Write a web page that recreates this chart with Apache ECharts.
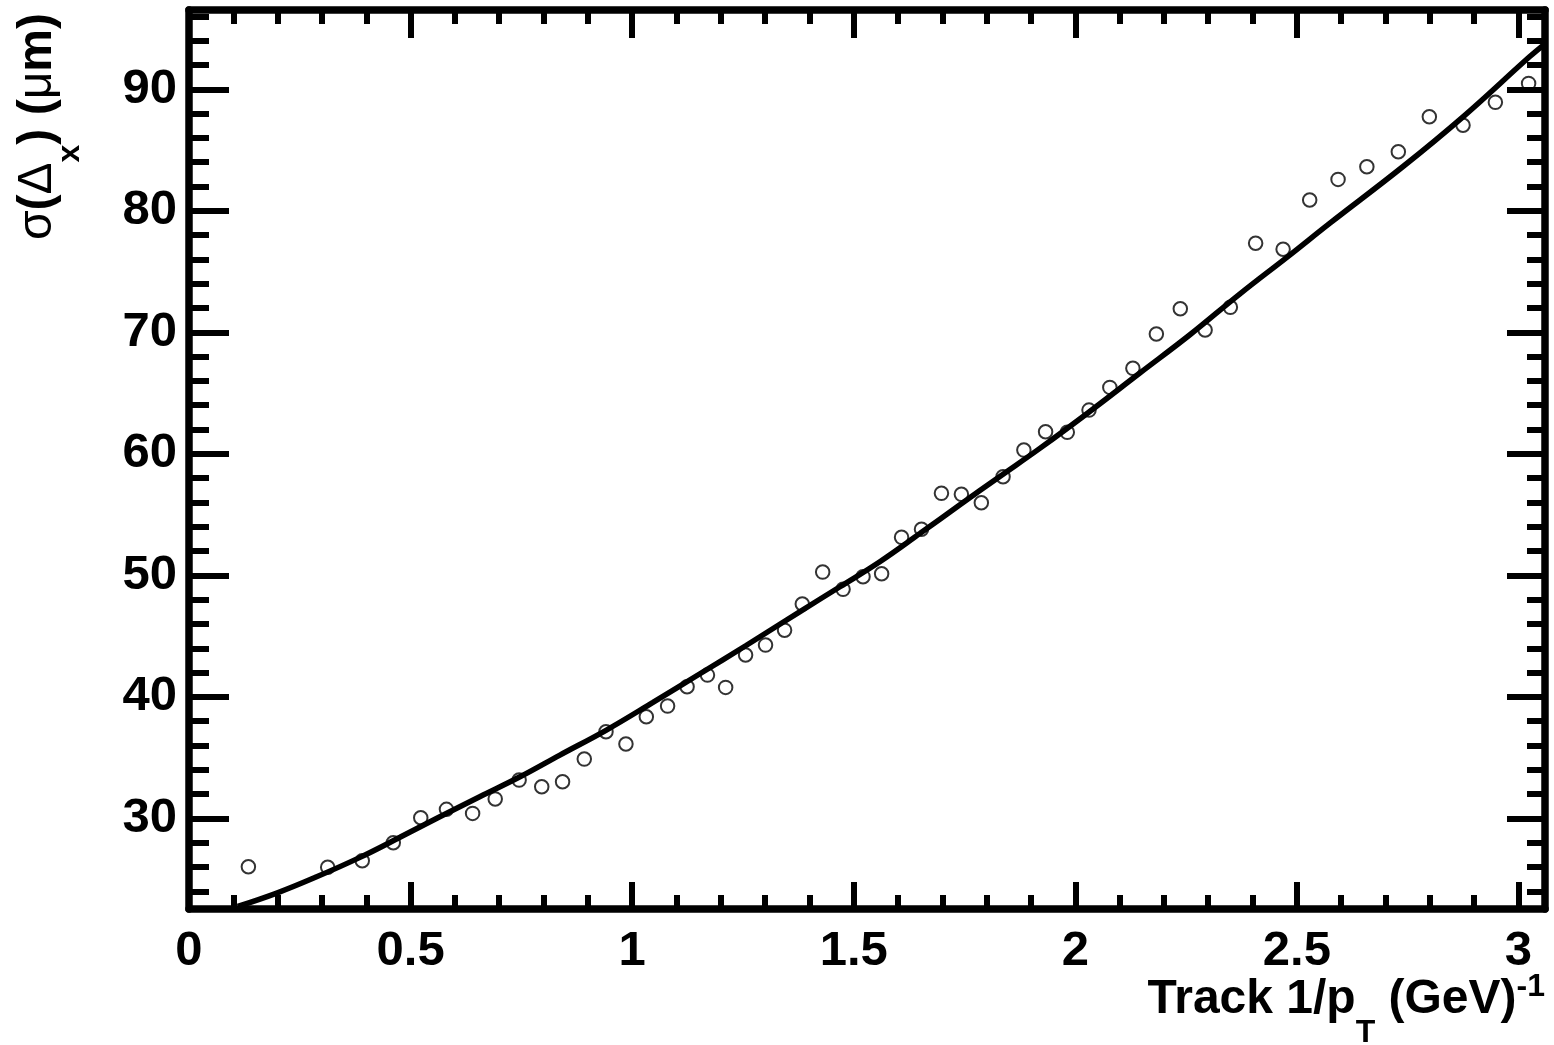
<!DOCTYPE html>
<html>
<head>
<meta charset="utf-8">
<script src="https://cdn.jsdelivr.net/npm/echarts@6/dist/echarts.min.js"></script>
<style>
  html, body { margin: 0; padding: 0; background: #fff; }
  #chart { width: 1554px; height: 1045px; }
</style>
</head>
<body>
<div id="chart"></div>
<script>
// Measured residual width sigma(Delta_x) versus track inverse transverse momentum
const pointX = [0.134, 0.313, 0.391, 0.461, 0.523, 0.581, 0.640, 0.691, 0.745, 0.796,
  0.843, 0.892, 0.941, 0.986, 1.032, 1.080, 1.124, 1.170, 1.211, 1.256,
  1.301, 1.344, 1.384, 1.430, 1.476, 1.521, 1.563, 1.608, 1.653, 1.698,
  1.743, 1.788, 1.837, 1.884, 1.933, 1.982, 2.031, 2.078, 2.130, 2.183,
  2.237, 2.293, 2.350, 2.407, 2.469, 2.529, 2.593, 2.658, 2.729, 2.799,
  2.875, 2.948, 3.023];
const pointY = [26.02, 25.97, 26.51, 27.99, 30.05, 30.74, 30.41, 31.60, 33.15, 32.60,
  33.01, 34.88, 37.13, 36.12, 38.36, 39.24, 40.83, 41.79, 40.78, 43.44,
  44.26, 45.49, 47.64, 50.27, 48.85, 49.89, 50.13, 53.13, 53.79, 56.75,
  56.67, 55.98, 58.12, 60.31, 61.82, 61.77, 63.60, 65.47, 67.04, 69.86,
  71.94, 70.19, 72.06, 77.33, 76.84, 80.89, 82.59, 83.63, 84.86, 87.74,
  87.04, 88.93, 90.49];

// Fitted resolution curve
const fitX = [0.11, 0.198, 0.288, 0.386, 0.476, 0.566, 0.656, 0.747, 0.837, 0.942,
  1.047, 1.153, 1.258, 1.378, 1.469, 1.559, 1.650, 1.739, 1.829, 1.920,
  2.032, 2.145, 2.258, 2.371, 2.484, 2.574, 2.739, 2.875, 3.025, 3.06];
const fitY = [22.75, 23.85, 25.19, 26.79, 28.44, 30.13, 31.78, 33.42, 35.21, 37.27,
  39.55, 41.90, 44.25, 47.00, 49.06, 51.12, 53.46, 55.79, 58.12, 60.45,
  63.47, 66.63, 69.78, 73.15, 76.36, 78.97, 83.63, 87.74, 92.68, 93.75];

// Axis ticks
const xMajorTicks = [0, 0.5, 1, 1.5, 2, 2.5, 3];
const xMinorTicks = [0.1, 0.2, 0.3, 0.4, 0.6, 0.7, 0.8, 0.9, 1.1, 1.2, 1.3, 1.4,
  1.6, 1.7, 1.8, 1.9, 2.1, 2.2, 2.3, 2.4, 2.6, 2.7, 2.8, 2.9, 3.0];
const yMajorTicks = [30, 40, 50, 60, 70, 80, 90];
const yMinorTicks = [24, 26, 28, 32, 34, 36, 38, 42, 44, 46, 48, 52, 54, 56, 58,
  62, 64, 66, 68, 72, 74, 76, 78, 82, 84, 86, 88, 92, 94, 96];

const X_MIN = 0, X_MAX = 3.06;
const Y_MIN = 22.54, Y_MAX = 96.53;

const FONT = '"Liberation Sans", Arial, Helvetica, sans-serif';
const INK = '#000';

const gridRect = { left: 189, right: 9, top: 10, bottom: 136 };

function xAxisDef(gridIndex, position, ticks, len, showLine, showLabel) {
  return {
    type: 'value', gridIndex, position, min: X_MIN, max: X_MAX,
    axisLine: { show: showLine, onZero: false, lineStyle: { color: INK, width: 7.5 } },
    axisTick: { show: true, inside: true, length: len, customValues: ticks,
      lineStyle: { color: INK, width: 6 } },
    axisLabel: { show: showLabel, customValues: xMajorTicks, margin: 18,
      color: INK, fontFamily: FONT, fontWeight: 'bold', fontSize: 49 },
    splitLine: { show: false }
  };
}
function yAxisDef(gridIndex, position, ticks, len, showLine, showLabel) {
  return {
    type: 'value', gridIndex, position, min: Y_MIN, max: Y_MAX,
    axisLine: { show: showLine, onZero: false, lineStyle: { color: INK, width: 7.5 } },
    axisTick: { show: true, inside: true, length: len, customValues: ticks,
      lineStyle: { color: INK, width: 6 } },
    axisLabel: { show: showLabel, customValues: yMajorTicks, margin: 12,
      color: INK, fontFamily: FONT, fontWeight: 'bold', fontSize: 49,
      padding: [10, 0, 0, 0] },
    splitLine: { show: false }
  };
}

const chart = echarts.init(document.getElementById('chart'), null, { renderer: 'canvas' });

chart.setOption({
  animation: false,
  backgroundColor: '#fff',
  grid: [
    Object.assign({}, gridRect),
    Object.assign({}, gridRect)
  ],
  xAxis: [
    xAxisDef(0, 'bottom', xMajorTicks, 27, true, true),
    xAxisDef(0, 'top', xMajorTicks, 28, true, false),
    xAxisDef(1, 'bottom', xMinorTicks, 14, false, false),
    xAxisDef(1, 'top', xMinorTicks, 14, false, false)
  ],
  yAxis: [
    yAxisDef(0, 'left', yMajorTicks, 40, true, true),
    yAxisDef(0, 'right', yMajorTicks, 38, true, false),
    yAxisDef(1, 'left', yMinorTicks, 20, false, false),
    yAxisDef(1, 'right', yMinorTicks, 18, false, false)
  ],
  graphic: [
    {
      type: 'text', x: 1545, y: 1000, silent: true,
      style: {
        text: '{m|Track 1/p}{s|T}{m| (GeV)}{u|-1}',
        align: 'right', verticalAlign: 'middle', lineHeight: 56, fill: INK,
        rich: {
          m: { fontFamily: FONT, fontWeight: 'bold', fontSize: 48, fill: INK },
          s: { fontFamily: FONT, fontWeight: 'bold', fontSize: 32, fill: INK, padding: [66, 0, 0, 0] },
          u: { fontFamily: FONT, fontWeight: 'bold', fontSize: 32, fill: INK, padding: [0, 0, 26, 0] }
        }
      }
    },
    {
      type: 'text', x: 38, y: 13, rotation: Math.PI / 2, silent: true,
      style: {
        text: '{g|σ}{m|(}{g|Δ}{s|x}{m|) (}{g|μ}{m|m)}',
        align: 'right', verticalAlign: 'middle', lineHeight: 56, fill: INK,
        rich: {
          m: { fontFamily: FONT, fontWeight: 'bold', fontSize: 48, fill: INK },
          g: { fontFamily: FONT, fontWeight: 'normal', fontSize: 48, fill: INK },
          s: { fontFamily: FONT, fontWeight: 'bold', fontSize: 32, fill: INK, padding: [64, 0, 0, 0] }
        }
      }
    }
  ],
  series: [
    {
      type: 'scatter', xAxisIndex: 0, yAxisIndex: 0,
      symbol: 'circle', symbolSize: 13.5,
      itemStyle: { color: 'rgba(0,0,0,0)', borderColor: INK, borderWidth: 2 },
      data: pointX.map((x, i) => [x, pointY[i]]),
      z: 2
    },
    {
      type: 'line', xAxisIndex: 0, yAxisIndex: 0,
      showSymbol: false, smooth: 0.4, clip: true,
      lineStyle: { color: INK, width: 5.5 },
      data: fitX.map((x, i) => [x, fitY[i]]),
      z: 3
    }
  ]
});
</script>
</body>
</html>
